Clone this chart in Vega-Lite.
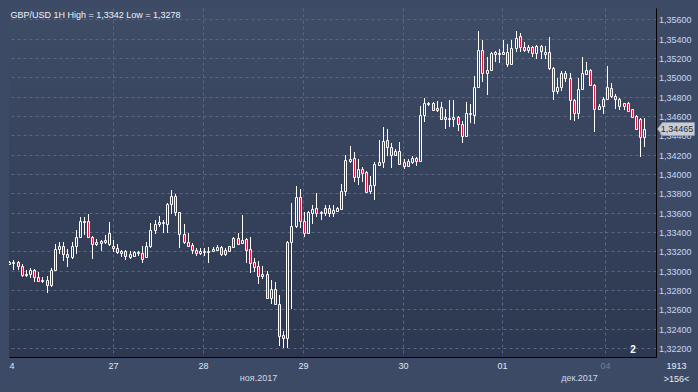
{
"$schema": "https://vega.github.io/schema/vega-lite/v6.json",
"width": 647,
"height": 349,
"padding": {"left": 9, "top": 8, "right": 0, "bottom": 0},
"background": "#3d4a66",
"title": {"text": "GBP/USD 1H High = 1,3342 Low = 1,3278", "anchor": "start", "frame": "group", "orient": "top", "offset": -12, "dx": 1.5, "fontSize": 9, "fontWeight": "normal", "font": "Liberation Sans", "color": "#eef2f8"},
"config": {
  "locale": {"number": {"decimal": ",", "thousands": " ", "grouping": [3], "currency": ["", ""]}},
  "view": {"stroke": null, "fill": {"gradient": "linear", "x1": 0, "y1": 0, "x2": 0, "y2": 1, "stops": [{"offset": 0, "color": "#3f4c66"}, {"offset": 1, "color": "#2d3850"}]}},
  "font": "Liberation Sans",
  "axis": {"labelFont": "Liberation Sans", "titleFont": "Liberation Sans"},
  "axisY": {
    "values": [1.322, 1.324, 1.326, 1.328, 1.33, 1.332, 1.334, 1.336, 1.338, 1.34, 1.342, 1.344, 1.346, 1.348, 1.35, 1.352, 1.354, 1.356],
    "labelExpr": "replace(format(datum.value, '.5f'), '.', ',')",
    "grid": true, "gridColor": "#5a6781", "gridDash": [3, 3],
    "ticks": false, "tickSize": 0, "domain": true, "domainColor": "#000000", "domainWidth": 1,
    "labelPadding": 2.5, "labelFontSize": 9, "labelColor": "#c9d8ef", "labelAlign": "left", "labelBaseline": "middle",
    "labelOverlap": false, "labelFlush": false, "minExtent": 42, "maxExtent": 42, "title": null
  }
},
"data": {"values": [
{"i":0,"o":1.3307,"h":1.3310,"l":1.3306,"c":1.3309},
{"i":1,"o":1.3308,"h":1.3311,"l":1.3301,"c":1.3309},
{"i":2,"o":1.3309,"h":1.3310,"l":1.3301,"c":1.3305},
{"i":3,"o":1.3305,"h":1.3307,"l":1.3293,"c":1.3295},
{"i":4,"o":1.3295,"h":1.3301,"l":1.3293,"c":1.3297},
{"i":5,"o":1.3297,"h":1.3303,"l":1.3292,"c":1.3301},
{"i":6,"o":1.3301,"h":1.3302,"l":1.3288,"c":1.3293},
{"i":7,"o":1.3293,"h":1.3299,"l":1.3288,"c":1.3289},
{"i":8,"o":1.3289,"h":1.3293,"l":1.3287,"c":1.3290},
{"i":9,"o":1.3290,"h":1.3294,"l":1.3277,"c":1.3285},
{"i":10,"o":1.3285,"h":1.3303,"l":1.3283,"c":1.3301},
{"i":11,"o":1.3301,"h":1.3328,"l":1.3300,"c":1.3322},
{"i":12,"o":1.3322,"h":1.3330,"l":1.3317,"c":1.3326},
{"i":13,"o":1.3326,"h":1.3330,"l":1.3310,"c":1.3317},
{"i":14,"o":1.3317,"h":1.3322,"l":1.3304,"c":1.3314},
{"i":15,"o":1.3314,"h":1.3330,"l":1.3312,"c":1.3326},
{"i":16,"o":1.3326,"h":1.3342,"l":1.3317,"c":1.3335},
{"i":17,"o":1.3335,"h":1.3355,"l":1.3334,"c":1.3351},
{"i":18,"o":1.3350,"h":1.3355,"l":1.3337,"c":1.3351},
{"i":19,"o":1.3351,"h":1.3359,"l":1.3334,"c":1.3335},
{"i":20,"o":1.3335,"h":1.3336,"l":1.3312,"c":1.3328},
{"i":21,"o":1.3328,"h":1.3333,"l":1.3326,"c":1.3330},
{"i":22,"o":1.3329,"h":1.3332,"l":1.3320,"c":1.3331},
{"i":23,"o":1.3330,"h":1.3337,"l":1.3328,"c":1.3332},
{"i":24,"o":1.3328,"h":1.3350,"l":1.3326,"c":1.3339},
{"i":25,"o":1.3326,"h":1.3332,"l":1.3319,"c":1.3323},
{"i":26,"o":1.3323,"h":1.3328,"l":1.3317,"c":1.3319},
{"i":27,"o":1.3320,"h":1.3321,"l":1.3314,"c":1.3318},
{"i":28,"o":1.3320,"h":1.3321,"l":1.3311,"c":1.3315},
{"i":29,"o":1.3314,"h":1.3320,"l":1.3312,"c":1.3317},
{"i":30,"o":1.3315,"h":1.3320,"l":1.3314,"c":1.3319},
{"i":31,"o":1.3318,"h":1.3320,"l":1.3315,"c":1.3319},
{"i":32,"o":1.3318,"h":1.3326,"l":1.3308,"c":1.3312},
{"i":33,"o":1.3314,"h":1.3330,"l":1.3313,"c":1.3326},
{"i":34,"o":1.3326,"h":1.3349,"l":1.3323,"c":1.3342},
{"i":35,"o":1.3342,"h":1.3352,"l":1.3338,"c":1.3348},
{"i":36,"o":1.3348,"h":1.3357,"l":1.3345,"c":1.3350},
{"i":37,"o":1.3349,"h":1.3352,"l":1.3339,"c":1.3350},
{"i":38,"o":1.3348,"h":1.3370,"l":1.3339,"c":1.3369},
{"i":39,"o":1.3369,"h":1.3383,"l":1.3359,"c":1.3377},
{"i":40,"o":1.3377,"h":1.3379,"l":1.3356,"c":1.3361},
{"i":41,"o":1.3361,"h":1.3361,"l":1.3323,"c":1.3338},
{"i":42,"o":1.3338,"h":1.3348,"l":1.3328,"c":1.3330},
{"i":43,"o":1.3330,"h":1.3339,"l":1.3325,"c":1.3326},
{"i":44,"o":1.3327,"h":1.3329,"l":1.3317,"c":1.3321},
{"i":45,"o":1.3321,"h":1.3323,"l":1.3315,"c":1.3318},
{"i":46,"o":1.3318,"h":1.3323,"l":1.3316,"c":1.3320},
{"i":47,"o":1.3319,"h":1.3323,"l":1.3315,"c":1.3320},
{"i":48,"o":1.3319,"h":1.3324,"l":1.3308,"c":1.3320},
{"i":49,"o":1.3320,"h":1.3324,"l":1.3319,"c":1.3322},
{"i":50,"o":1.3321,"h":1.3327,"l":1.3320,"c":1.3324},
{"i":51,"o":1.3324,"h":1.3325,"l":1.3315,"c":1.3317},
{"i":52,"o":1.3317,"h":1.3323,"l":1.3315,"c":1.3321},
{"i":53,"o":1.3320,"h":1.3326,"l":1.3320,"c":1.3325},
{"i":54,"o":1.3324,"h":1.3335,"l":1.3323,"c":1.3334},
{"i":55,"o":1.3334,"h":1.3339,"l":1.3327,"c":1.3328},
{"i":56,"o":1.3329,"h":1.3358,"l":1.3328,"c":1.3332},
{"i":57,"o":1.3333,"h":1.3334,"l":1.3308,"c":1.3321},
{"i":58,"o":1.3322,"h":1.3335,"l":1.3298,"c":1.3308},
{"i":59,"o":1.3309,"h":1.3313,"l":1.3299,"c":1.3304},
{"i":60,"o":1.3305,"h":1.3310,"l":1.3286,"c":1.3294},
{"i":61,"o":1.3294,"h":1.3305,"l":1.3291,"c":1.3297},
{"i":62,"o":1.3297,"h":1.3300,"l":1.3271,"c":1.3272},
{"i":63,"o":1.3272,"h":1.3290,"l":1.3266,"c":1.3281},
{"i":64,"o":1.3281,"h":1.3288,"l":1.3264,"c":1.3265},
{"i":65,"o":1.3266,"h":1.3275,"l":1.3222,"c":1.3232},
{"i":66,"o":1.3233,"h":1.3238,"l":1.3220,"c":1.3230},
{"i":67,"o":1.3230,"h":1.3331,"l":1.3220,"c":1.3330},
{"i":68,"o":1.3330,"h":1.3370,"l":1.3260,"c":1.3346},
{"i":69,"o":1.3346,"h":1.3388,"l":1.3344,"c":1.3376},
{"i":70,"o":1.3376,"h":1.3384,"l":1.3344,"c":1.3351},
{"i":71,"o":1.3351,"h":1.3361,"l":1.3335,"c":1.3339},
{"i":72,"o":1.3339,"h":1.3362,"l":1.3338,"c":1.3361},
{"i":73,"o":1.3360,"h":1.3368,"l":1.3348,"c":1.3364},
{"i":74,"o":1.3365,"h":1.3380,"l":1.3355,"c":1.3360},
{"i":75,"o":1.3360,"h":1.3362,"l":1.3352,"c":1.3361},
{"i":76,"o":1.3360,"h":1.3368,"l":1.3356,"c":1.3365},
{"i":77,"o":1.3365,"h":1.3368,"l":1.3355,"c":1.3360},
{"i":78,"o":1.3360,"h":1.3368,"l":1.3355,"c":1.3363},
{"i":79,"o":1.3362,"h":1.3366,"l":1.3361,"c":1.3365},
{"i":80,"o":1.3364,"h":1.3390,"l":1.3363,"c":1.3382},
{"i":81,"o":1.3382,"h":1.3420,"l":1.3377,"c":1.3414},
{"i":82,"o":1.3413,"h":1.3429,"l":1.3411,"c":1.3415},
{"i":83,"o":1.3417,"h":1.3423,"l":1.3392,"c":1.3397},
{"i":84,"o":1.3397,"h":1.3415,"l":1.3389,"c":1.3405},
{"i":85,"o":1.3405,"h":1.3407,"l":1.3392,"c":1.3401},
{"i":86,"o":1.3402,"h":1.3403,"l":1.3380,"c":1.3381},
{"i":87,"o":1.3382,"h":1.3398,"l":1.3379,"c":1.3389},
{"i":88,"o":1.3389,"h":1.3412,"l":1.3373,"c":1.3410},
{"i":89,"o":1.3409,"h":1.3435,"l":1.3408,"c":1.3412},
{"i":90,"o":1.3412,"h":1.3449,"l":1.3406,"c":1.3434},
{"i":91,"o":1.3435,"h":1.3446,"l":1.3419,"c":1.3428},
{"i":92,"o":1.3428,"h":1.3432,"l":1.3406,"c":1.3420},
{"i":93,"o":1.3420,"h":1.3426,"l":1.3419,"c":1.3424},
{"i":94,"o":1.3424,"h":1.3433,"l":1.3409,"c":1.3410},
{"i":95,"o":1.3412,"h":1.3415,"l":1.3405,"c":1.3408},
{"i":96,"o":1.3408,"h":1.3415,"l":1.3407,"c":1.3413},
{"i":97,"o":1.3412,"h":1.3419,"l":1.3410,"c":1.3417},
{"i":98,"o":1.3417,"h":1.3418,"l":1.3408,"c":1.3413},
{"i":99,"o":1.3413,"h":1.3470,"l":1.3412,"c":1.3461},
{"i":100,"o":1.3461,"h":1.3479,"l":1.3454,"c":1.3473},
{"i":101,"o":1.3472,"h":1.3474,"l":1.3470,"c":1.3473},
{"i":102,"o":1.3473,"h":1.3474,"l":1.3465,"c":1.3466},
{"i":103,"o":1.3468,"h":1.3475,"l":1.3464,"c":1.3466},
{"i":104,"o":1.3469,"h":1.3474,"l":1.3456,"c":1.3457},
{"i":105,"o":1.3459,"h":1.3467,"l":1.3447,"c":1.3457},
{"i":106,"o":1.3457,"h":1.3477,"l":1.3449,"c":1.3458},
{"i":107,"o":1.3457,"h":1.3477,"l":1.3449,"c":1.3459},
{"i":108,"o":1.3459,"h":1.3460,"l":1.3444,"c":1.3452},
{"i":109,"o":1.3452,"h":1.3455,"l":1.3432,"c":1.3439},
{"i":110,"o":1.3439,"h":1.3474,"l":1.3438,"c":1.3463},
{"i":111,"o":1.3462,"h":1.3472,"l":1.3453,"c":1.3463},
{"i":112,"o":1.3461,"h":1.3501,"l":1.3452,"c":1.3490},
{"i":113,"o":1.3490,"h":1.3548,"l":1.3489,"c":1.3528},
{"i":114,"o":1.3528,"h":1.3539,"l":1.3495,"c":1.3504},
{"i":115,"o":1.3504,"h":1.3521,"l":1.3482,"c":1.3508},
{"i":116,"o":1.3508,"h":1.3526,"l":1.3507,"c":1.3525},
{"i":117,"o":1.3524,"h":1.3527,"l":1.3516,"c":1.3526},
{"i":118,"o":1.3524,"h":1.3529,"l":1.3515,"c":1.3525},
{"i":119,"o":1.3524,"h":1.3539,"l":1.3523,"c":1.3526},
{"i":120,"o":1.3526,"h":1.3534,"l":1.3511,"c":1.3514},
{"i":121,"o":1.3514,"h":1.3539,"l":1.3513,"c":1.3530},
{"i":122,"o":1.3530,"h":1.3548,"l":1.3526,"c":1.3541},
{"i":123,"o":1.3543,"h":1.3546,"l":1.3526,"c":1.3531},
{"i":124,"o":1.3531,"h":1.3537,"l":1.3526,"c":1.3528},
{"i":125,"o":1.3528,"h":1.3533,"l":1.3525,"c":1.3531},
{"i":126,"o":1.3531,"h":1.3532,"l":1.3521,"c":1.3525},
{"i":127,"o":1.3525,"h":1.3533,"l":1.3519,"c":1.3532},
{"i":128,"o":1.3532,"h":1.3533,"l":1.3519,"c":1.3527},
{"i":129,"o":1.3524,"h":1.3532,"l":1.3519,"c":1.3526},
{"i":130,"o":1.3526,"h":1.3542,"l":1.3508,"c":1.3510},
{"i":131,"o":1.3510,"h":1.3511,"l":1.3477,"c":1.3486},
{"i":132,"o":1.3486,"h":1.3499,"l":1.3483,"c":1.3490},
{"i":133,"o":1.3490,"h":1.3507,"l":1.3486,"c":1.3504},
{"i":134,"o":1.3504,"h":1.3507,"l":1.3495,"c":1.3499},
{"i":135,"o":1.3499,"h":1.3504,"l":1.3456,"c":1.3477},
{"i":136,"o":1.3477,"h":1.3478,"l":1.3455,"c":1.3463},
{"i":137,"o":1.3463,"h":1.3499,"l":1.3457,"c":1.3488},
{"i":138,"o":1.3488,"h":1.3521,"l":1.3488,"c":1.3504},
{"i":139,"o":1.3503,"h":1.3516,"l":1.3502,"c":1.3508},
{"i":140,"o":1.3508,"h":1.3509,"l":1.3492,"c":1.3492},
{"i":141,"o":1.3492,"h":1.3493,"l":1.3443,"c":1.3467},
{"i":142,"o":1.3467,"h":1.3472,"l":1.3466,"c":1.3470},
{"i":143,"o":1.3470,"h":1.3480,"l":1.3462,"c":1.3478},
{"i":144,"o":1.3478,"h":1.3512,"l":1.3477,"c":1.3490},
{"i":145,"o":1.3489,"h":1.3494,"l":1.3479,"c":1.3481},
{"i":146,"o":1.3481,"h":1.3483,"l":1.3467,"c":1.3478},
{"i":147,"o":1.3478,"h":1.3479,"l":1.3466,"c":1.3470},
{"i":148,"o":1.3473,"h":1.3473,"l":1.3466,"c":1.3470},
{"i":149,"o":1.3473,"h":1.3474,"l":1.3464,"c":1.3465},
{"i":150,"o":1.3467,"h":1.3467,"l":1.3458,"c":1.3459},
{"i":151,"o":1.3460,"h":1.3461,"l":1.3447,"c":1.3447},
{"i":152,"o":1.3457,"h":1.3458,"l":1.3418,"c":1.3438},
{"i":153,"o":1.3438,"h":1.3458,"l":1.3428,"c":1.34465}
]},
"resolve": {"axis": {"x": "independent"}},
"layer": [
  {
    "mark": {"type": "rule", "color": "#ffffff", "strokeWidth": 1, "clip": true, "xOffset": 0.5},
    "encoding": {
      "x": {"field": "i", "type": "quantitative",
        "scale": {"domain": [-0.07, 155.83], "nice": false, "zero": false, "padding": 0, "round": true},
        "axis": {"orient": "bottom", "values": [0, 24.9, 46.75, 70.7, 94.8, 118.7, 143.6],
          "labelExpr": "datum.value < 1 ? '4' : datum.value < 30 ? '27' : datum.value < 50 ? '28' : datum.value < 80 ? '29' : datum.value < 100 ? '30' : datum.value < 130 ? '01' : '04'",
          "grid": true, "gridColor": "#5a6781", "gridDash": [3, 3],
          "gridOpacity": {"condition": {"test": "datum.value < 1", "value": 0}, "value": 1},
          "ticks": false, "tickSize": 0, "domain": true, "domainColor": "#000000", "domainWidth": 1,
          "labelPadding": 4, "labelFontSize": 9, "labelBaseline": "top",
          "labelColor": {"condition": {"test": "datum.value > 140", "value": "#6f7d97"}, "value": "#dfe8f5"},
          "labelAlign": {"condition": {"test": "datum.value < 1", "value": "left"}, "value": "center"},
          "labelFlush": false, "labelOverlap": false, "labelBound": false,
          "minExtent": 35,
          "title": ["1913", ">156<"], "titleX": 667, "titleY": 4, "titleAlign": "center", "titleBaseline": "top",
          "titleFontSize": 9, "titleFontWeight": "normal", "titleColor": "#e6edf7", "titleLineHeight": 13}},
      "y": {"field": "l", "type": "quantitative",
        "scale": {"domain": [1.321066, 1.357168], "nice": false, "zero": false, "padding": 0, "round": true},
        "axis": {"orient": "right", "values": [1.322, 1.324, 1.326, 1.328, 1.33, 1.332, 1.334, 1.336, 1.338, 1.34, 1.342, 1.344, 1.346, 1.348, 1.35, 1.352, 1.354, 1.356]}},
      "y2": {"field": "h"}
    }
  },
  {
    "mark": {"type": "bar", "orient": "vertical", "size": 2, "stroke": "#ffffff", "strokeWidth": 1, "clip": true, "xOffset": 0.5, "yOffset": 0.5, "y2Offset": 0.5},
    "encoding": {
      "x": {"field": "i", "type": "quantitative",
        "scale": {"domain": [-0.07, 155.83], "nice": false, "zero": false, "padding": 0, "round": true},
        "axis": {"orient": "bottom", "values": [59.93, 137.28],
          "labelExpr": "datum.value < 100 ? 'ноя.2017' : 'дек.2017'",
          "grid": false, "ticks": false, "tickSize": 0, "domain": false,
          "labelPadding": 16, "labelBaseline": "top", "labelFontSize": 9, "labelColor": "#cdd7e6",
          "labelFlush": false, "labelOverlap": false, "title": null}},
      "y": {"field": "o", "type": "quantitative",
        "scale": {"domain": [1.321066, 1.357168], "nice": false, "zero": false, "padding": 0, "round": true},
        "axis": {"orient": "right", "values": [1.322, 1.324, 1.326, 1.328, 1.33, 1.332, 1.334, 1.336, 1.338, 1.34, 1.342, 1.344, 1.346, 1.348, 1.35, 1.352, 1.354, 1.356]}},
      "y2": {"field": "c"},
      "fill": {"condition": {"test": "datum.c < datum.o", "value": "#e3173e"}, "value": "#38455f"}
    }
  },
  {
    "transform": [{"filter": "datum.i == 153"}],
    "mark": {"type": "point", "shape": "M-1,0L-0.73,-0.35L1,-0.35L1,0.35L-0.73,0.35Z", "size": 1369, "filled": true, "fill": "#c8cdd5", "stroke": "#9aa3b2", "strokeWidth": 0.5, "opacity": 1, "xOffset": 32},
    "encoding": {
      "x": {"field": "i", "type": "quantitative", "scale": {"domain": [-0.07, 155.83], "nice": false, "zero": false, "padding": 0, "round": true}, "axis": null},
      "y": {"field": "c", "type": "quantitative", "scale": {"domain": [1.321066, 1.357168], "nice": false, "zero": false, "padding": 0, "round": true},
        "axis": {"orient": "right", "values": [1.322, 1.324, 1.326, 1.328, 1.33, 1.332, 1.334, 1.336, 1.338, 1.34, 1.342, 1.344, 1.346, 1.348, 1.35, 1.352, 1.354, 1.356]}}
    }
  },
  {
    "transform": [{"filter": "datum.i == 153"}],
    "mark": {"type": "text", "xOffset": 33, "align": "center", "baseline": "middle", "fontSize": 9, "color": "#262b35", "font": "Liberation Sans"},
    "encoding": {
      "x": {"field": "i", "type": "quantitative", "scale": {"domain": [-0.07, 155.83], "nice": false, "zero": false, "padding": 0, "round": true}, "axis": null},
      "y": {"field": "c", "type": "quantitative", "scale": {"domain": [1.321066, 1.357168], "nice": false, "zero": false, "padding": 0, "round": true},
        "axis": {"orient": "right", "values": [1.322, 1.324, 1.326, 1.328, 1.33, 1.332, 1.334, 1.336, 1.338, 1.34, 1.342, 1.344, 1.346, 1.348, 1.35, 1.352, 1.354, 1.356]}},
      "text": {"field": "c", "type": "quantitative", "format": ".5f"}
    }
  },
  {
    "data": {"values": [{"label": "2", "pos": 150.3, "lvl": 1.3218}]},
    "mark": {"type": "text", "align": "center", "baseline": "middle", "fontSize": 10, "fontWeight": "bold", "color": "#ffffff", "font": "Liberation Sans"},
    "encoding": {
      "x": {"field": "pos", "type": "quantitative", "scale": {"domain": [-0.07, 155.83], "nice": false, "zero": false, "padding": 0, "round": true}, "axis": null},
      "y": {"field": "lvl", "type": "quantitative", "scale": {"domain": [1.321066, 1.357168], "nice": false, "zero": false, "padding": 0, "round": true},
        "axis": {"orient": "right", "values": [1.322, 1.324, 1.326, 1.328, 1.33, 1.332, 1.334, 1.336, 1.338, 1.34, 1.342, 1.344, 1.346, 1.348, 1.35, 1.352, 1.354, 1.356]}},
      "text": {"field": "label"}
    }
  }
]
}
